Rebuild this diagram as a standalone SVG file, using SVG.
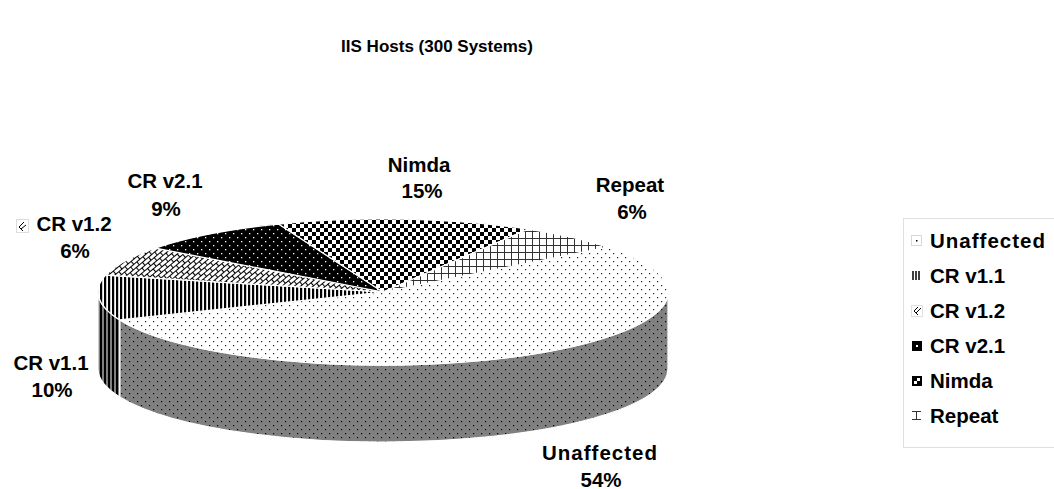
<svg xmlns="http://www.w3.org/2000/svg" width="1054" height="489" viewBox="0 0 1054 489">
<style>
.t{font-family:"Liberation Sans",Arial,sans-serif;font-weight:bold;fill:#000}
.lbl{font-size:20.5px;text-anchor:middle}
.leg{font-size:20.5px}
.wide{letter-spacing:1px}
.sl{stroke:#fff;stroke-width:1.2;stroke-linejoin:round}
</style>
<defs>
<pattern id="dotsW" width="8" height="8" patternUnits="userSpaceOnUse">
<rect width="8" height="8" fill="#fff"/>
<rect x="1" y="1" width="1.2" height="1.2" fill="#222"/>
<rect x="5" y="5" width="1.2" height="1.2" fill="#222"/>
</pattern>
<pattern id="dotsG" width="8" height="8" patternUnits="userSpaceOnUse">
<rect width="8" height="8" fill="#808080"/>
<rect x="1" y="1" width="1.2" height="1.2" fill="#000"/>
<rect x="5" y="5" width="1.2" height="1.2" fill="#000"/>
</pattern>
<pattern id="vstr" width="4" height="4" patternUnits="userSpaceOnUse">
<rect width="4" height="4" fill="#fff"/>
<rect width="2.2" height="4" fill="#000"/>
</pattern>
<pattern id="vstrG" width="4" height="4" patternUnits="userSpaceOnUse">
<rect width="4" height="4" fill="#808080"/>
<rect width="2" height="4" fill="#000"/>
</pattern>
<pattern id="brick" width="8" height="8" patternUnits="userSpaceOnUse" patternTransform="rotate(-40)">
<rect width="8" height="8" fill="#fff"/>
<path d="M0,0.5H8M0,4.5H8M0.5,0.5V4.5M4.5,4.5V8.5" stroke="#000" stroke-width="1.1" fill="none"/>
</pattern>
<pattern id="dotsB" width="8" height="8" patternUnits="userSpaceOnUse">
<rect width="8" height="8" fill="#000"/>
<rect x="1" y="1" width="1.3" height="1.3" fill="#fff"/>
<rect x="5" y="5" width="1.3" height="1.3" fill="#fff"/>
</pattern>
<pattern id="check" width="8" height="8" patternUnits="userSpaceOnUse">
<rect width="8" height="8" fill="#fff"/>
<rect width="4" height="4" fill="#000"/>
<rect x="4" y="4" width="4" height="4" fill="#000"/>
</pattern>
<pattern id="grid" width="7" height="7" patternUnits="userSpaceOnUse">
<rect width="7" height="7" fill="#fff"/>
<path d="M0.5,0V7M0,0.5H7" stroke="#333" stroke-width="1"/>
</pattern>
</defs>

<rect width="1054" height="489" fill="#fff"/>

<text class="t" x="437" y="52" font-size="17" text-anchor="middle">IIS Hosts (300 Systems)</text>

<g id="pie">
<g id="side-unaffected">
<path class="sl" fill="url(#dotsG)" d="M668,292 A285,73 0 0 1 119.7,319.9 L119.7,396.9 A285,73 0 0 0 668,369 Z"/>
</g>
<g id="side-crv11">
<path class="sl" fill="url(#vstrG)" d="M119.7,319.9 A285,73 0 0 1 98,292 L98,369 A285,73 0 0 0 119.7,396.9 Z"/>
</g>
<g id="unaffected">
<path class="sl" fill="url(#dotsW)" d="M383,292 L607.6,247.1 A285,73 0 1 1 119.7,319.9 Z"/>
</g>
<g id="crv11">
<path class="sl" fill="url(#vstr)" d="M383,292 L119.7,319.9 A285,73 0 0 1 105.6,275.2 Z"/>
</g>
<g id="crv12">
<path class="sl" fill="url(#brick)" d="M383,292 L105.6,275.2 A285,73 0 0 1 155.4,248.1 Z"/>
</g>
<g id="crv21">
<path class="sl" fill="url(#dotsB)" d="M383,292 L155.4,248.1 A285,73 0 0 1 278.5,224.1 Z"/>
</g>
<g id="nimda">
<path class="sl" fill="url(#check)" d="M383,292 L278.5,224.1 A285,73 0 0 1 528.1,229.2 Z"/>
</g>
<g id="repeat">
<path class="sl" fill="url(#grid)" d="M383,292 L528.1,229.2 A285,73 0 0 1 607.6,247.1 Z"/>
</g>
</g>

<g id="connectors"></g>

<g id="labels">
<g id="lbl-crv21"><text class="t lbl" x="165" y="188">CR v2.1</text><text class="t lbl" x="166" y="216">9%</text></g>
<g id="lbl-nimda"><text class="t lbl" x="419" y="172">Nimda</text><text class="t lbl" x="422" y="198">15%</text></g>
<g id="lbl-repeat"><text class="t lbl" x="630" y="192">Repeat</text><text class="t lbl" x="632" y="219">6%</text></g>
<g id="lbl-crv12">
<rect x="16.5" y="219.5" width="12" height="13" fill="#fff" stroke="#ddd"/>
<path d="M24,222 L19,227 L23,231 M21,229 L26,225" stroke="#000" stroke-width="1" fill="none"/>
<text class="t lbl" x="74" y="231">CR v1.2</text><text class="t lbl" x="75" y="258">6%</text></g>
<g id="lbl-crv11"><text class="t lbl" x="51" y="370">CR v1.1</text><text class="t lbl" x="52" y="397">10%</text></g>
<g id="lbl-unaffected"><text class="t lbl wide" x="600" y="460">Unaffected</text><text class="t lbl" x="601" y="487">54%</text></g>
</g>

<g id="legend">
<rect x="903.5" y="218.5" width="160" height="229" fill="#fff" stroke="#e0e0e0"/>
<g id="leg-unaffected">
<rect x="911.5" y="235.5" width="10" height="10" fill="#fff" stroke="#d8d8d8"/>
<rect x="916" y="240" width="1.5" height="1.5" fill="#000"/>
<text class="t leg wide" x="930" y="248">Unaffected</text>
</g>
<g id="leg-crv11">
<path d="M913,271V280M916,271V280M919,271V280" stroke="#000" stroke-width="1.5"/>
<text class="t leg" x="930" y="283">CR v1.1</text>
</g>
<g id="leg-crv12">
<rect x="911.5" y="305.5" width="11" height="11" fill="#fff" stroke="#e0e0e0"/>
<path d="M918,307 L914,311 L918,315 M916,313 L921,308" stroke="#000" stroke-width="1" fill="none"/>
<text class="t leg" x="930" y="318">CR v1.2</text>
</g>
<g id="leg-crv21">
<rect x="912" y="341" width="10" height="10" fill="#000"/>
<rect x="916" y="345" width="2" height="2" fill="#fff"/>
<text class="t leg" x="930" y="353">CR v2.1</text>
</g>
<g id="leg-nimda">
<rect x="912" y="376" width="10" height="10" fill="#000"/>
<rect x="917" y="378" width="3" height="3" fill="#fff"/>
<rect x="914" y="381" width="3" height="3" fill="#fff"/>
<text class="t leg" x="930" y="388">Nimda</text>
</g>
<g id="leg-repeat">
<path d="M912,411.5H921M912,419.5H921M916.5,411V420" stroke="#333" stroke-width="1" fill="none"/>
<text class="t leg" x="930" y="423">Repeat</text>
</g>
</g>
</svg>
